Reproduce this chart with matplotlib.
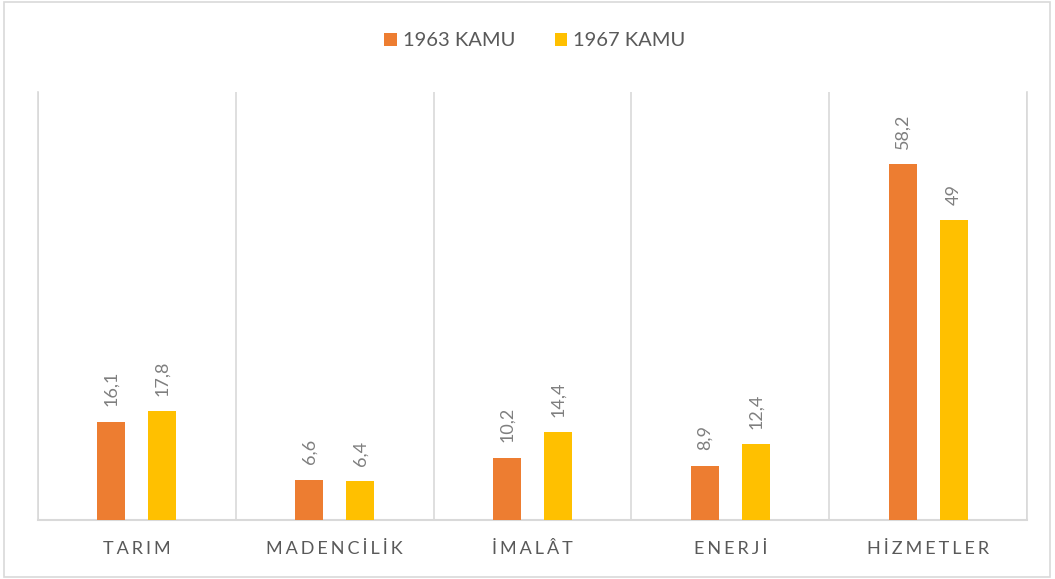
import matplotlib
matplotlib.use("Agg")
import matplotlib.pyplot as plt
from matplotlib.patches import Rectangle
import numpy as np

categories = ["TARIM", "MADENCİLİK", "İMALÂT", "ENERJİ", "HİZMETLER"]
series_names = ["1963 KAMU", "1967 KAMU"]
values_1963 = [16.1, 6.6, 10.2, 8.9, 58.2]
values_1967 = [17.8, 6.4, 14.4, 12.4, 49]
colors = ["#ED7D31", "#FFC000"]

plt.rcParams['font.family'] = ['Lato', 'DejaVu Sans']

W, H = 1055, 579
fig = plt.figure(figsize=(W / 100, H / 100), dpi=100)
fig.patch.set_facecolor("white")
fig.patches.append(Rectangle((4 / W, 2 / H), (1050 - 4) / W, (577 - 2) / H,
                             transform=fig.transFigure, fill=False,
                             edgecolor="#d9d9d9", linewidth=1.2))

ax = fig.add_axes([38 / W, (H - 520) / H, (1027 - 38) / W, (520 - 92) / H])
x = np.arange(len(categories))
bw = 0.141
off = 0.129
b1 = ax.bar(x - off, values_1963, bw, color=colors[0], label=series_names[0], zorder=3)
b2 = ax.bar(x + off, values_1967, bw, color=colors[1], label=series_names[1], zorder=3)

def fmt(v):
    return ("%g" % v).replace(".", ",")

for bars, vals in ((b1, values_1963), (b2, values_1967)):
    for rect, v in zip(bars, vals):
        ax.annotate(fmt(v), (rect.get_x() + rect.get_width() / 2, rect.get_height()),
                    xytext=(0, 11), textcoords="offset points", rotation=90,
                    ha="center", va="bottom", fontsize=13, color="#7f7f7f")

ax.set_xlim(-0.5, len(categories) - 0.5)
ax.set_ylim(0, 70)
ax.set_yticks([])
ax.set_xticks(x)
ax.set_xticklabels(["\u2006".join(c) for c in categories], fontsize=13, color="#595959",
                   family=['Lato', 'DejaVu Sans'])
ax.tick_params(axis="x", length=0, pad=15)
ax.set_xticks(np.arange(-0.5, len(categories)), minor=True)
ax.tick_params(axis="x", which="minor", length=0)
ax.grid(axis="x", which="minor", color="#d9d9d9", linewidth=1.2, zorder=0)
ax.grid(axis="x", which="major", visible=False)
ax.spines["top"].set_visible(False)
for s in ("left", "right", "bottom"):
    ax.spines[s].set_color("#d9d9d9")
    ax.spines[s].set_linewidth(1.2)
ax.spines["bottom"].set_linewidth(1.5)

fig.legend(handles=[b1, b2], labels=series_names, loc="center",
           bbox_to_anchor=(535 / W, 1 - 41 / H), ncol=2, frameon=False,
           fontsize=14.5, handlelength=0.6, handleheight=0.6, handletextpad=0.3,
           columnspacing=2.0, labelcolor="#595959")

fig.savefig("out.png", dpi=100, facecolor="white")
